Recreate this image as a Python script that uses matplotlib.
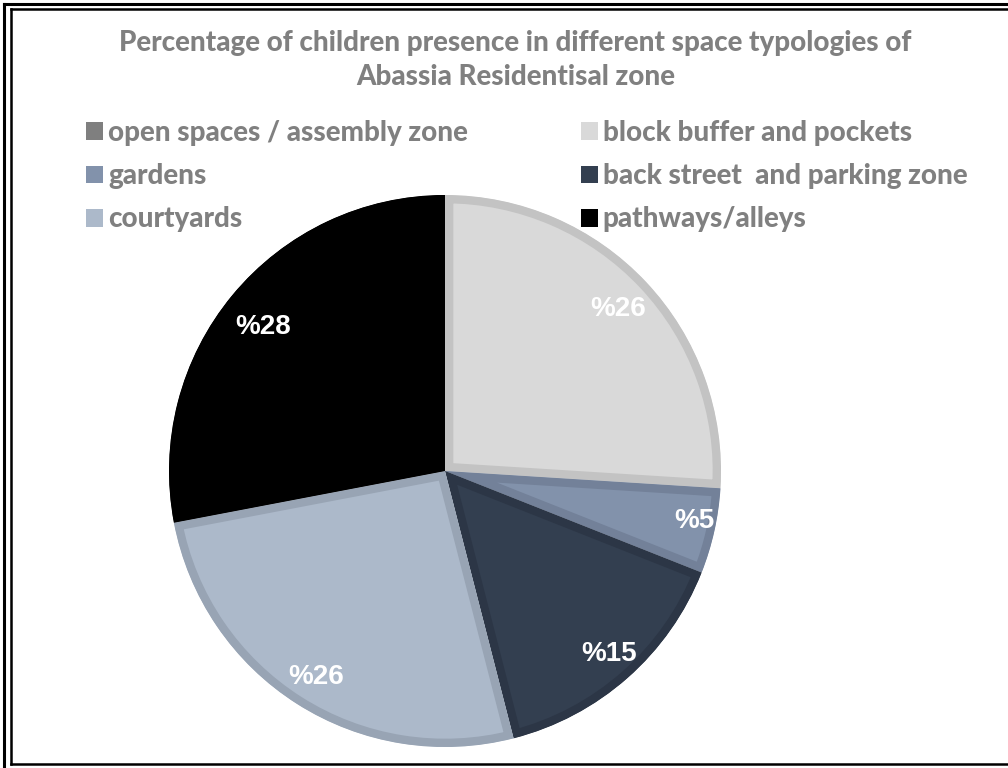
import matplotlib.pyplot as plt
import numpy as np
from matplotlib.patches import Patch
from matplotlib.lines import Line2D

# values (percent, clockwise from 12 o'clock)
categories = [
    "open spaces / assembly zone",
    "block buffer and pockets",
    "gardens",
    "back street  and parking zone",
    "courtyards",
    "pathways/alleys",
]
shares = [0, 26, 5, 15, 26, 28]
fills = ["#7f7f7f", "#d9d9d9", "#8292ab", "#333f50", "#acb9ca", "#000000"]
edges = ["#6f6f6f", "#c3c3c3", "#738199", "#2c3646", "#98a4b4", "#000000"]

title = "Percentage of children presence in different space typologies of\nAbassia Residentisal zone"
text_grey = "#808080"
font = "Lato"

fig = plt.figure(figsize=(10.08, 7.68), dpi=100)
W, H = 1008, 768


def fx(px):
    return px / W


def fy(py):
    return 1 - py / H


# double frame (right and bottom of the outer one run off the picture)
frame = [
    ((4, 4), (4, 768), 2.2), ((4, 1008), (4, 4), 2.2),
    ((11, 11), (9, 764), 1.8), ((11, 1008), (9, 9), 1.8), ((11, 1008), (764, 764), 1.8),
]
for xs, ys, lw in frame:
    fig.add_artist(Line2D([fx(x) for x in xs], [fy(y) for y in ys], color="black", lw=lw,
                          transform=fig.transFigure))

fig.text(0.5115, fy(60), title, ha="center", va="center", fontsize=20,
         fontweight="black", color=text_grey, family=font, linespacing=1.35)

ax = fig.add_axes([fx(169), fy(747), 552 / W, 552 / H])
wedges, _ = ax.pie(shares, colors=fills, startangle=90, counterclock=False,
                   radius=1.0, wedgeprops=dict(linewidth=0))
ax.set_xlim(-1.0, 1.0)
ax.set_ylim(-1.0, 1.0)
ax.set_aspect("equal")
ax.axis("off")

# inner border on every slice: stroke twice as wide, clipped to the slice itself
# (pie turns clipping off on its wedges, so switch it back on)
for w, ec in zip(wedges, edges):
    w.set_edgecolor(ec)
    w.set_linewidth(12)
    w.set_clip_on(True)
    w.set_clip_path(w.get_path(), w.get_transform())

# data labels, "%NN" style
label_r = [0, 0.86, 0.92, 0.89, 0.88, 0.84]
label_shift = [0, 0, 1.2, 0.6, 0.4, 1.2]
for w, v, r, d in zip(wedges, shares, label_r, label_shift):
    if v == 0:
        continue
    ang = np.deg2rad((w.theta1 + w.theta2) / 2 + d)
    ax.text(r * np.cos(ang), r * np.sin(ang), f"%{v}", ha="center", va="center",
            fontsize=20, fontweight="bold", color="white", family="Liberation Sans")

# legend: two columns, left column first
order = [0, 2, 4, 1, 3, 5]
handles = [Patch(facecolor=fills[i], edgecolor="none") for i in order]
labels = [categories[i] for i in order]
leg = fig.legend(handles, labels, ncol=2, loc="upper left", bbox_to_anchor=(fx(61), fy(95)),
                 frameon=False, handlelength=0.61, handleheight=0.61, handletextpad=0.18,
                 columnspacing=4.07, labelspacing=0.62,
                 prop=dict(family=font, weight="black", size=20))
for t in leg.get_texts():
    t.set_color(text_grey)

fig.savefig("out.png", dpi=100)
